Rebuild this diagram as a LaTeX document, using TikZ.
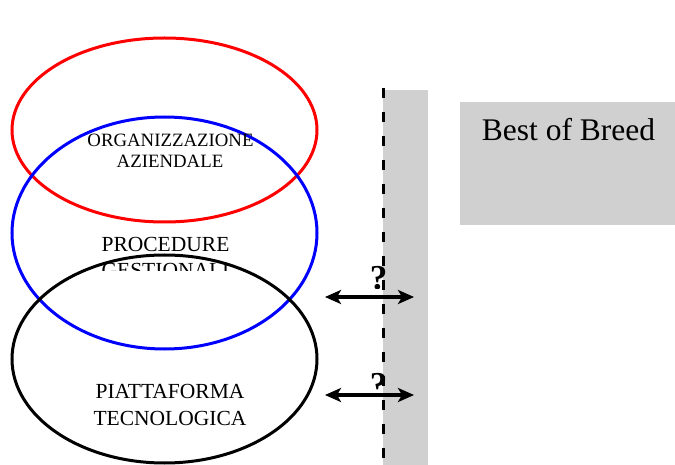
\documentclass[tikz,border=0pt]{standalone}
\usepackage{fontspec}
\setmainfont{Liberation Serif}
\usetikzlibrary{shapes.geometric,arrows.meta}
\definecolor{panelgray}{RGB}{208,208,208}
\tikzset{
  ring/.style={ellipse, draw, line width=3pt, inner sep=0pt,
               minimum width=305pt},
  lbl/.style={anchor=base, inner sep=0pt},
  link/.style={line width=3.3pt, {Stealth[length=16pt,width=14pt,inset=4pt]}-{Stealth[length=16pt,width=14pt,inset=4pt]}},
  qmark/.style={anchor=base, inner sep=0pt, font=\fontsize{35}{35}\selectfont\bfseries},
}
\begin{document}
\begin{tikzpicture}[x=1pt,y=-1pt]
\useasboundingbox (0,0) rectangle (675,465);

% grey boundary strip and the Best of Breed panel
\node[fill=panelgray, inner sep=0pt, minimum width=45pt, minimum height=375pt, anchor=north west] (strip) at (383,90) {};
\node[fill=panelgray, inner sep=0pt, minimum width=215pt, minimum height=123pt, anchor=north west] (bob) at (460,102) {};
\node[lbl, font=\fontsize{31.5}{31.5}\selectfont] (bobtxt) at (568.5,141) {Best of Breed};

% dashed boundary line
\coordinate (dtop) at (383,88);
\coordinate (dbot) at (383,465);
\draw[line width=3pt, dash pattern=on 10pt off 14pt] (dtop) -- (dbot);

% the three overlapping layers
\node[ring, draw=red, minimum height=184pt] (org) at (164.5,130) {};
\node[ring, draw=blue, minimum height=232pt] (proc) at (164.5,233) {};
\node[ring, draw=black, minimum height=208pt] (tech) at (164.5,359) {};

% layer captions
\node[lbl, font=\fontsize{18.8}{18.8}\selectfont] (org1) at (170.5,146.5) {ORGANIZZAZIONE};
\node[lbl, font=\fontsize{18.8}{18.8}\selectfont] (org2) at (170,168) {AZIENDALE};
\node[lbl, font=\fontsize{21.5}{21.5}\selectfont] (proc1) at (165.5,252) {PROCEDURE};
\begin{scope}
  \clip (60,255) rectangle (280,271);
  \node[lbl, font=\fontsize{21.5}{21.5}\selectfont] (proc2) at (165.5,277) {GESTIONALI};
\end{scope}
\node[lbl, font=\fontsize{21.5}{21.5}\selectfont] (tech1) at (170,398) {PIATTAFORMA};
\node[lbl, font=\fontsize{21.5}{21.5}\selectfont] (tech2) at (170,425) {TECNOLOGICA};

% question marks over the interfaces
\begin{scope}
  \clip (360,255) rectangle (400,289);
  \node[qmark] (q1) at (378.5,290) {?};
\end{scope}
\begin{scope}
  \clip (360,360) rectangle (400,389);
  \node[qmark] (q2) at (378.5,396) {?};
\end{scope}

% two-way interface arrows
\coordinate (a1l) at (325,297);
\coordinate (a1r) at (414,297);
\coordinate (a2l) at (325,395);
\coordinate (a2r) at (414,395);
\draw[link] (a1l) -- (a1r);
\draw[link] (a2l) -- (a2r);
\end{tikzpicture}
\end{document}
